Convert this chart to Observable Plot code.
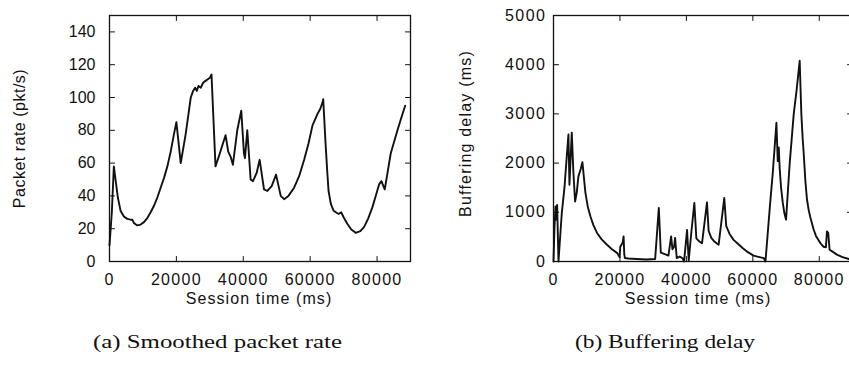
<!DOCTYPE html>
<html>
<head>
<meta charset="utf-8">
<script src="https://cdn.jsdelivr.net/npm/d3@7"></script>
<script src="https://cdn.jsdelivr.net/npm/@observablehq/plot@0.6"></script>
<style>
  html, body { margin: 0; padding: 0; background: #fff; overflow: hidden; }
  #wrap { position: relative; width: 849px; height: 369px; overflow: hidden; background: #fff; }
  #wrap > svg { position: absolute; top: 0; }
  #wrap > svg.pa { left: 0px; }
  #wrap > svg.pb { left: 430px; max-width: none; }
  #wrap > svg.cap { left: 0; top: 0; }
  svg g[aria-label="x-axis tick label"] { letter-spacing: 1.3px; }
  svg.pb g[aria-label="y-axis tick label"] { letter-spacing: 1.5px; }
</style>
</head>
<body>
<div id="wrap"></div>
<script>
// ---------- data ----------
const xTicks = [0, 20000, 40000, 60000, 80000];
const rateTicks = [0, 20, 40, 60, 80, 100, 120, 140];
const delayTicks = [0, 1000, 2000, 3000, 4000, 5000];

const xLabel = "Session time (ms)";
const rateLabel = "Packet rate (pkt/s)";
const delayLabel = "Buffering delay (ms)";
const captionA = "(a) Smoothed packet rate";
const captionB = "(b) Buffering delay";

// (a) smoothed packet rate
const rateTime = [0, 700, 1300, 1800, 2500, 3300, 4300, 5300, 6300, 6800, 7300, 8300, 9300, 10300, 11300, 12300,
  13300, 14300, 15300, 16300, 17300, 18300, 19300, 20000, 21300, 22800, 24300, 25000, 25600, 26100, 26600, 27300,
  28000, 28600, 29300, 30000, 30500, 31700, 33000, 34700, 35500, 36200, 36900, 38200, 39400, 40200, 40500, 41200,
  42200, 42900, 44000, 44900, 46200, 47200, 48500, 49800, 51200, 52200, 53500, 55200, 56700, 58200, 59500, 60700,
  62200, 63000, 63700, 63900, 64600, 65100, 65500, 66200, 67000, 67700, 68500, 69300, 70000, 71100, 72300, 73600, 75000,
  76100, 77300, 78600, 79600, 80600, 81300, 82300, 83200, 84100, 85100, 86100, 87300, 88400];
const rateValue = [10, 30, 58, 50, 39, 31, 27.5, 26, 25.5, 25.5, 23.5, 22, 22.5, 24, 26.5, 30,
  34, 39, 45, 51, 58, 67, 78, 85, 60, 78, 100, 104, 106, 104, 107, 106,
  109, 110, 111, 112, 114, 58, 66, 77, 67, 64, 59, 80, 92, 66, 63, 80,
  50, 49, 54, 62, 44, 43, 46, 53, 40, 38, 40, 45, 52, 62, 72, 83,
  90, 93, 97, 99, 72, 55, 43, 35, 31, 30, 29, 30, 27, 23, 19.5, 17.5, 18.5,
  21, 26, 33, 40, 47, 49, 44, 55, 66, 73, 80, 88, 95];

// (b) buffering delay
const delayTime = [0, 300, 600, 900, 1100, 1500, 2500, 3300, 4000, 4500, 4800, 5500, 6000, 6500, 7000, 7500,
  8200, 8700, 9600, 10300, 11100, 12000, 13100, 14500, 16100, 17600, 19200, 19900, 20100, 20800, 21100, 21300,
  21500, 22500, 25000, 28000, 30600, 31700, 32300, 33500, 34600, 35400, 35800, 36300, 36600, 37100, 38000, 38900,
  39300, 40200, 40700, 41500, 42400, 43000, 44000, 44700, 46200, 46700, 47500, 48500, 49700, 51400, 52000, 53000, 54200, 55500,
  57000, 58500, 60200, 62000, 63300, 63800, 65100, 66000, 67100, 67500, 67800, 68100, 68500, 69000, 69500, 70000, 71100, 72300,
  73200, 74100, 74600, 75000, 75300, 75800, 76300, 76800, 77300, 78300, 79000, 79800, 80500, 81300, 82000, 82300, 82700, 83100,
  84000, 85300, 87000, 88900];
const delayValue = [0, 700, 1120, 850, 1150, 0, 990, 1500, 2143, 2580, 1560, 2620, 1800, 1220, 1400, 1730,
  1880, 2020, 1400, 1120, 920, 740, 580, 450, 340, 250, 170, 90, 300, 380, 510, 150,
  70, 60, 50, 40, 50, 1090, 180, 150, 120, 510, 250, 300, 480, 70, 100, 60,
  0, 640, 20, 600, 1190, 470, 400, 370, 1200, 620, 480, 400, 340, 1290, 720, 560, 440, 360,
  270, 190, 120, 90, 68, 0, 1090, 1800, 2820, 2040, 2320, 1870, 1500, 1200, 980, 850, 2000, 2990,
  3500, 4080, 3000, 2500, 2210, 1650, 1260, 1050, 900, 650, 520, 430, 360, 300, 290, 610, 580, 240,
  200, 140, 90, 50];

// ---------- drawing ----------
const ink = "#111";
const tickShape = {draw(ctx, l) { ctx.moveTo(0, 0); ctx.lineTo(0, -l); }};
const tickLen = 5;

function inwardTicks(xt, yt) {
  const common = {length: tickLen, anchor: "start", shape: tickShape, stroke: ink, strokeWidth: 1};
  return [
    Plot.vector(xt, {x: d => d, frameAnchor: "bottom", rotate: 0, ...common}),
    Plot.vector(xt, {x: d => d, frameAnchor: "top", rotate: 180, ...common}),
    Plot.vector(yt, {y: d => d, frameAnchor: "left", rotate: 90, ...common}),
    Plot.vector(yt, {y: d => d, frameAnchor: "right", rotate: -90, ...common})
  ];
}

const fontStyle = {fontFamily: "'Liberation Sans', Arial, Helvetica, sans-serif", fontSize: "16px", color: ink, background: "#fff"};

function panel({cls, width, marginLeft, marginRight, yDomain, yTicks, times, values, yLab, yTickPad, yLabDx, yLabDy, xLabDx}) {
  const data = times.map((t, i) => ({t, v: values[i]}));
  const svg = Plot.plot({
    className: cls,
    width, height: 310,
    marginLeft, marginRight, marginTop: 15, marginBottom: 49,
    style: fontStyle,
    x: {domain: [0, 90000]},
    y: {domain: yDomain},
    marks: [
      Plot.line(data, {x: "t", y: "v", stroke: ink, strokeWidth: 1.9, strokeLinejoin: "round"}),
      Plot.frame({stroke: ink, strokeWidth: 1.3}),
      ...inwardTicks(xTicks, yTicks),
      Plot.axisX(xTicks, {tickSize: 0, tickPadding: 12.5, tickFormat: d => String(d), label: null, fill: ink}),
      Plot.axisY(yTicks, {tickSize: 0, tickPadding: yTickPad, tickFormat: d => String(d), label: null, fill: ink}),
      Plot.text([xLabel], {text: d => d, frameAnchor: "bottom", textAnchor: "middle", lineAnchor: "middle", dy: 37, dx: xLabDx, fill: ink}),
      Plot.text([yLab], {text: d => d, frameAnchor: "left", textAnchor: "middle", lineAnchor: "middle", rotate: -90, dx: yLabDx, dy: yLabDy, fill: ink})
    ]
  });
  svg.classList.add(cls);
  return svg;
}

const wrap = document.getElementById("wrap");

const a = panel({cls: "pa", width: 420, marginLeft: 109, marginRight: 10, yDomain: [0, 150], yTicks: rateTicks,
  times: rateTime, values: rateValue, yLab: rateLabel, yTickPad: 14, yLabDx: -90, yLabDy: 0, xLabDx: -1});
const b = panel({cls: "pb", width: 430, marginLeft: 123, marginRight: 8, yDomain: [0, 5000], yTicks: delayTicks,
  times: delayTime, values: delayValue, yLab: delayLabel, yTickPad: 7, yLabDx: -88, yLabDy: -5, xLabDx: -5});
wrap.appendChild(a);
wrap.appendChild(b);

// letter spacing of the axis titles (the reference type is set a little wide)
function spaceText(svg, txt, ls) {
  d3.select(svg).selectAll("text").filter(function() { return this.textContent === txt; }).style("letter-spacing", ls);
}
spaceText(a, xLabel, "1.1px");
spaceText(b, xLabel, "1.1px");
spaceText(a, rateLabel, "0.5px");
spaceText(b, delayLabel, "1.2px");

// captions
const ns = "http://www.w3.org/2000/svg";
const cap = document.createElementNS(ns, "svg");
cap.setAttribute("class", "cap");
cap.setAttribute("width", 849);
cap.setAttribute("height", 369);
[[captionA, 93, 249], [captionB, 575, 180]].forEach(([t, x, w]) => {
  const el = document.createElementNS(ns, "text");
  el.setAttribute("x", x);
  el.setAttribute("y", 348);
  el.setAttribute("textLength", w);
  el.setAttribute("lengthAdjust", "spacingAndGlyphs");
  el.setAttribute("font-family", "'Liberation Serif', 'DejaVu Serif', serif");
  el.setAttribute("font-size", 18);
  el.setAttribute("fill", ink);
  el.textContent = t;
  cap.appendChild(el);
});
cap.style.pointerEvents = "none";
cap.style.background = "transparent";
wrap.appendChild(cap);
</script>
</body>
</html>
